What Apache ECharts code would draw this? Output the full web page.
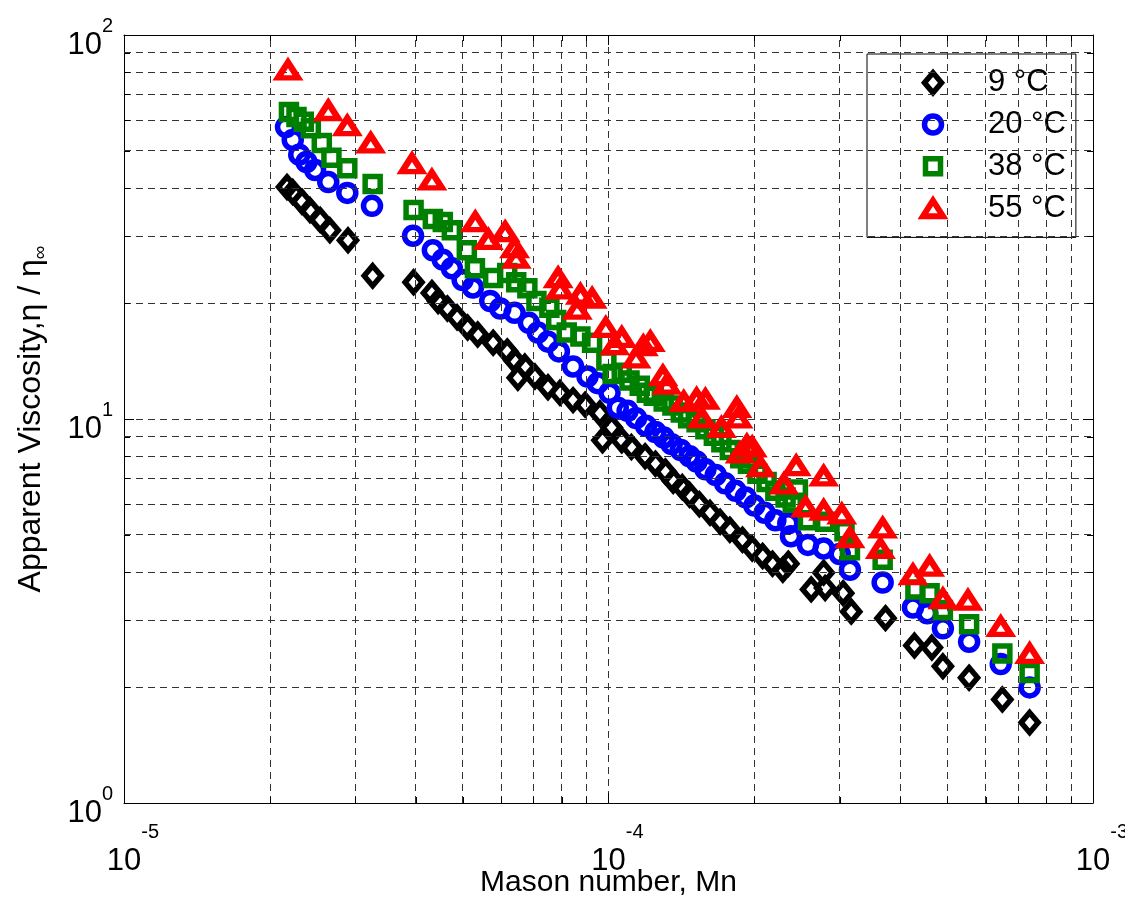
<!DOCTYPE html>
<html><head><meta charset="utf-8">
<script src="https://cdn.jsdelivr.net/npm/echarts@6/dist/echarts.min.js"></script>
<style>html,body{margin:0;padding:0;background:#fff;overflow:hidden}#c{width:1125px;height:905px}</style>
</head><body><div id="c"></div>
<script>
const seriesNames = ['9 °C', '20 °C', '38 °C', '55 °C'];

const mn9 = [2.17e-5,2.23e-5,2.33e-5,2.42e-5,2.54e-5,2.66e-5,2.9e-5,3.26e-5,3.96e-5,4.32e-5,4.45e-5,4.65e-5,4.87e-5,5.12e-5,5.37e-5,5.78e-5,6.18e-5,6.4e-5,6.5e-5,6.72e-5,7.05e-5,7.5e-5,7.94e-5,8.45e-5,8.95e-5,9.6e-5,9.72e-5,1.015e-4,1.065e-4,1.115e-4,1.19e-4,1.25e-4,1.31e-4,1.36e-4,1.42e-4,1.47e-4,1.54e-4,1.62e-4,1.7e-4,1.78e-4,1.89e-4,1.98e-4,2.08e-4,2.18e-4,2.29e-4,2.35e-4,2.62e-4,2.78e-4,2.8e-4,3.05e-4,3.17e-4,3.73e-4,4.28e-4,4.65e-4,4.9e-4,5.55e-4,6.5e-4,7.4e-4];
const eta9 = [40.2,39,36.8,35,33,31,29.2,23.6,22.7,21.3,20.3,19.4,18.4,17.3,16.6,15.8,15.0,14.2,12.8,13.7,12.9,12.1,11.7,11.2,10.9,10.35,8.8,9.5,8.8,8.45,8.0,7.65,7.3,6.9,6.65,6.35,6.0,5.7,5.4,5.15,4.85,4.6,4.4,4.2,4.05,4.2,3.6,3.98,3.63,3.52,3.15,3.03,2.57,2.54,2.27,2.12,1.86,1.62];

const mn20 = [2.16e-5,2.23e-5,2.3e-5,2.38e-5,2.48e-5,2.64e-5,2.89e-5,3.25e-5,3.95e-5,4.34e-5,4.55e-5,4.75e-5,5.0e-5,5.25e-5,5.7e-5,5.98e-5,6.4e-5,6.85e-5,7.15e-5,7.5e-5,7.9e-5,8.45e-5,9.05e-5,9.5e-5,1.005e-4,1.045e-4,1.095e-4,1.14e-4,1.195e-4,1.25e-4,1.3e-4,1.35e-4,1.41e-4,1.47e-4,1.52e-4,1.585e-4,1.665e-4,1.74e-4,1.83e-4,1.92e-4,2.0e-4,2.1e-4,2.21e-4,2.35e-4,2.38e-4,2.58e-4,2.78e-4,3.0e-4,3.15e-4,3.68e-4,4.25e-4,4.55e-4,4.9e-4,5.55e-4,6.45e-4,7.4e-4];
const eta20 = [57.6,53.3,48.8,46.7,44.5,41.4,38.8,35.9,30,27.5,26,24.7,23,22,20.3,19.4,18.9,17.8,16.8,15.9,15,13.7,12.9,12.4,11.7,10.7,10.5,10.05,9.6,9.25,8.95,8.6,8.3,8.0,7.75,7.4,7.15,6.8,6.5,6.25,5.95,5.7,5.45,5.35,4.95,4.7,4.6,4.45,4.05,3.75,3.23,3.12,2.85,2.63,2.3,2.0];

const mn38 = [2.19e-5,2.27e-5,2.35e-5,2.43e-5,2.56e-5,2.68e-5,2.89e-5,3.26e-5,3.96e-5,4.34e-5,4.55e-5,4.75e-5,5.1e-5,5.3e-5,5.78e-5,6.18e-5,6.45e-5,6.8e-5,7.1e-5,7.55e-5,7.8e-5,8.2e-5,8.75e-5,9.25e-5,9.9e-5,1.02e-4,1.065e-4,1.105e-4,1.16e-4,1.2e-4,1.24e-4,1.3e-4,1.355e-4,1.41e-4,1.46e-4,1.52e-4,1.585e-4,1.65e-4,1.71e-4,1.78e-4,1.87e-4,1.94e-4,2.03e-4,2.12e-4,2.21e-4,2.32e-4,2.4e-4,2.46e-4,2.58e-4,2.8e-4,3.07e-4,3.15e-4,3.68e-4,4.3e-4,4.6e-4,4.9e-4,5.55e-4,6.5e-4,7.4e-4];
const eta38 = [63.0,61.2,59.4,57.2,52.3,47.9,45,40.9,35,33.2,32.6,31,27.5,24.7,23.3,24,22.7,21.9,20.3,19.5,18.1,16.8,16.4,15.8,14.2,13.1,13.2,12.6,12.2,11.7,11.5,11.1,10.85,10.4,10.05,9.8,9.4,9.05,8.7,8.3,7.9,7.65,7.2,6.85,6.5,6.25,6.05,6.55,5.45,5.4,5.1,4.55,4.3,3.6,3.52,3.18,2.92,2.45,2.18];

const mn55 = [2.18e-5,2.64e-5,2.89e-5,3.23e-5,3.93e-5,4.32e-5,5.31e-5,5.65e-5,6.12e-5,6.4e-5,6.45e-5,7.87e-5,7.94e-5,8.75e-5,9.25e-5,8.62e-5,9.87e-5,1.03e-4,1.065e-4,1.14e-4,1.18e-4,1.22e-4,1.295e-4,1.32e-4,1.43e-4,1.52e-4,1.585e-4,1.56e-4,1.71e-4,1.84e-4,1.85e-4,1.93e-4,1.98e-4,1.87e-4,2.06e-4,2.3e-4,2.44e-4,2.55e-4,2.78e-4,2.78e-4,3.03e-4,3.15e-4,3.68e-4,3.64e-4,4.25e-4,4.6e-4,4.9e-4,5.52e-4,6.45e-4,7.4e-4];
const eta55 = [81,63.5,58,52.3,46.2,41.9,32.6,29.3,30.7,27.9,26.2,23.3,21.8,21.1,20.6,19.3,17.3,15.6,16.3,14.4,15.5,15.9,12.95,12.3,11.1,11.3,11.25,10.05,9.5,10.7,10.05,8.55,8.45,8.15,7.5,6.77,7.55,5.9,7.1,5.78,5.65,4.9,5.2,4.6,3.93,4.13,3.4,3.37,2.88,2.45];

const xMinorGrid = [2e-5,3e-5,4e-5,5e-5,6e-5,7e-5,8e-5,9e-5,2e-4,3e-4,4e-4,5e-4,6e-4,7e-4,8e-4,9e-4];
const yMinorGrid = [2,3,4,5,6,7,8,9,20,30,40,50,60,70,80,90];
const xRange = [1e-5, 1e-3];
const yRange = [1, 100];

const FONT = '"Liberation Sans", Arial, Helvetica, sans-serif';
const FS_MAIN = 31;
const FS_SUP = 20;
const FS_LEG = 31;

const gridStyle = {color: '#333', width: 1, type: [7, 5]};
const clear = 'rgba(0,0,0,0)';

// legend icons: the drawn shape sits at x=49 inside a 99x26 box so the text lands where the reference has it
const styles = [
  {symbol: 'diamond', size: [17, 20], color: '#000000', bw: 5.5,
   icon: 'path://M0,-13M99,13M49,-10L57.5,0L49,10L40.5,0Z'},
  {symbol: 'circle', size: 17, color: '#0000ff', bw: 5.5,
   icon: 'path://M0,-13M99,13M57.5,0A8.5,8.5,0,1,1,40.5,0A8.5,8.5,0,1,1,57.5,0Z'},
  {symbol: 'rect', size: 15, color: '#008000', bw: 5.5,
   icon: 'path://M0,-13M99,13M41.5,-7.5L56.5,-7.5L56.5,7.5L41.5,7.5Z'},
  {symbol: 'triangle', size: [20, 15.5], color: '#ff0000', bw: 6,
   icon: 'path://M0,-13M99,13M49,-7.75L59,7.75L39,7.75Z'}
];
const xs = [mn9, mn20, mn38, mn55];
const ys = [eta9, eta20, eta38, eta55];

const chart = echarts.init(document.getElementById('c'), null, {renderer: 'canvas'});

const gridLines = xMinorGrid.map(v => [{coord: [v, yRange[0]]}, {coord: [v, yRange[1]]}])
  .concat(yMinorGrid.map(v => [{coord: [xRange[0], v]}, {coord: [xRange[1], v]}]));

const series = [{
  type: 'scatter', name: '_grid', data: [], z: 1, silent: true,
  markLine: {
    silent: true, symbol: ['none', 'none'], animation: false,
    label: {show: false}, lineStyle: gridStyle, emphasis: {disabled: true},
    data: gridLines
  }
}];
seriesNames.forEach((n, i) => {
  const s = styles[i];
  series.push({
    type: 'scatter', name: n, z: 3 + i,
    symbol: s.symbol, symbolSize: s.size,
    data: xs[i].map((x, k) => [x, ys[i][k]]),
    itemStyle: {color: clear, borderColor: s.color, borderWidth: s.bw, opacity: 1},
    emphasis: {disabled: true},
    animation: false
  });
});

const expOf = v => Math.round(Math.log10(v));
// superscript token is top-aligned, base "10" bottom-aligned inside one line box
const xLabel = {
  show: true, margin: 19, color: '#000', fontSize: FS_MAIN, fontFamily: FONT,
  formatter: v => '{p|}{b|10}{s|' + expOf(v) + '}',
  rich: {
    p: {width: 18, fontSize: FS_SUP, lineHeight: 10, fontFamily: FONT, verticalAlign: 'top'},
    b: {fontSize: FS_MAIN, lineHeight: 55, fontFamily: FONT, color: '#000', verticalAlign: 'bottom'},
    s: {fontSize: FS_SUP, lineHeight: 20, fontFamily: FONT, color: '#000', verticalAlign: 'top'}
  }
};
const yLabel = {
  show: true, margin: 11, color: '#000', fontSize: FS_MAIN, fontFamily: FONT,
  padding: [7, 0, 0, 0],
  formatter: v => '{b|10}{s|' + expOf(v) + '}',
  rich: {
    b: {fontSize: FS_MAIN, lineHeight: 44, fontFamily: FONT, color: '#000', verticalAlign: 'bottom'},
    s: {fontSize: FS_SUP, lineHeight: 20, fontFamily: FONT, color: '#000', verticalAlign: 'top'}
  }
};
const axLine = {show: true, onZero: false, lineStyle: {color: '#000', width: 1}};
const axTick = {show: true, inside: true, length: 10, lineStyle: {color: '#000', width: 1}};

chart.setOption({
  animation: false,
  backgroundColor: '#fff',
  grid: {left: 124, top: 35, right: 32, bottom: 102, containLabel: false, outerBoundsMode: 'none'},
  xAxis: [{
    type: 'log', logBase: 10, min: xRange[0], max: xRange[1], position: 'bottom',
    name: 'Mason number, Mn', nameLocation: 'middle', nameGap: 65, nameMoveOverlap: false,
    nameTextStyle: {fontSize: 30, fontFamily: FONT, color: '#000'},
    axisLine: axLine, axisTick: axTick, axisLabel: xLabel,
    splitLine: {show: true, lineStyle: gridStyle}
  }, {
    type: 'log', logBase: 10, min: xRange[0], max: xRange[1], position: 'top',
    axisLine: axLine, axisTick: axTick, axisLabel: {show: false}, splitLine: {show: false}
  }],
  yAxis: [{
    type: 'log', logBase: 10, min: yRange[0], max: yRange[1], position: 'left',
    name: '{a|Apparent Viscosity,η / η}{s|∞}', nameLocation: 'middle', nameGap: 74, nameMoveOverlap: false,
    nameTextStyle: {color: '#000', rich: {
      a: {fontSize: 32, fontFamily: FONT, color: '#000', verticalAlign: 'top'},
      s: {fontSize: 19, fontFamily: FONT, color: '#000', verticalAlign: 'bottom', padding: [16, 0, 0, 0]}
    }},
    axisLine: axLine, axisTick: axTick, axisLabel: yLabel,
    splitLine: {show: true, lineStyle: gridStyle}
  }, {
    type: 'log', logBase: 10, min: yRange[0], max: yRange[1], position: 'right',
    axisLine: axLine, axisTick: axTick, axisLabel: {show: false}, splitLine: {show: false}
  }],
  legend: {
    orient: 'vertical', left: 867, top: 54,
    padding: [13, 10, 13, 14],
    itemWidth: 99, itemHeight: 26, itemGap: 10.3,
    symbolKeepAspect: true,
    backgroundColor: '#fff', borderColor: '#000', borderWidth: 1, borderRadius: 0,
    textStyle: {fontSize: FS_LEG, lineHeight: 30, fontFamily: FONT, color: '#000'},
    selectedMode: false,
    data: seriesNames.map((n, i) => ({
      name: n, icon: styles[i].icon,
      itemStyle: {color: clear, borderColor: styles[i].color, borderWidth: styles[i].bw}
    }))
  },
  series: series
});

// minor ticks on all four sides, placed through the axes' own scales
const g = [];
const yb = chart.convertToPixel({yAxisIndex: 0}, yRange[0]);
const yt = chart.convertToPixel({yAxisIndex: 0}, yRange[1]);
const xl = chart.convertToPixel({xAxisIndex: 0}, xRange[0]);
const xr = chart.convertToPixel({xAxisIndex: 0}, xRange[1]);
const tl = 6;
const tickStyle = {stroke: '#000', lineWidth: 1};
xMinorGrid.forEach(v => {
  const px = Math.round(chart.convertToPixel({xAxisIndex: 0}, v)) + 0.5;
  g.push({type: 'line', shape: {x1: px, y1: yb, x2: px, y2: yb - tl}, style: tickStyle, silent: true, z: 10});
  g.push({type: 'line', shape: {x1: px, y1: yt, x2: px, y2: yt + tl}, style: tickStyle, silent: true, z: 10});
});
yMinorGrid.forEach(v => {
  const py = Math.round(chart.convertToPixel({yAxisIndex: 0}, v)) + 0.5;
  g.push({type: 'line', shape: {x1: xl, y1: py, x2: xl + tl, y2: py}, style: tickStyle, silent: true, z: 10});
  g.push({type: 'line', shape: {x1: xr, y1: py, x2: xr - tl, y2: py}, style: tickStyle, silent: true, z: 10});
});
chart.setOption({graphic: g});
</script></body></html>
